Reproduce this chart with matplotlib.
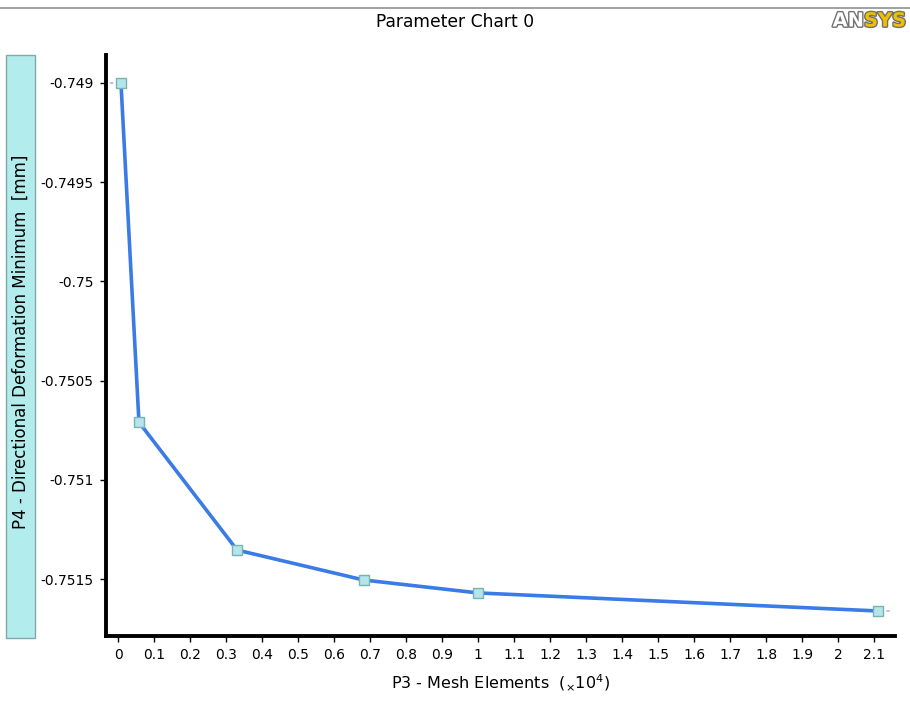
import matplotlib
matplotlib.use("Agg")
from matplotlib import pyplot as plt
from matplotlib.patches import Rectangle
from matplotlib.lines import Line2D
import matplotlib.patheffects as pe

# mesh elements (x10^4) and directional deformation minimum (mm)
mesh_elements = [0.0075, 0.0575, 0.330, 0.682, 0.999, 2.110]
deformation = [-0.74900, -0.75071, -0.751354, -0.751505, -0.751570, -0.751661]

x_ticks = [round(i * 0.1, 1) for i in range(22)]
x_tick_labels = ["0", "0.1", "0.2", "0.3", "0.4", "0.5", "0.6", "0.7", "0.8", "0.9", "1",
                 "1.1", "1.2", "1.3", "1.4", "1.5", "1.6", "1.7", "1.8", "1.9", "2", "2.1"]
y_ticks = [-0.749, -0.7495, -0.75, -0.7505, -0.751, -0.7515]
y_tick_labels = ["-0.749", "-0.7495", "-0.75", "-0.7505", "-0.751", "-0.7515"]

fig = plt.figure(figsize=(9.1, 7.11), dpi=100)
ax = fig.add_axes([0.1165, 0.1055, 0.867, 0.817])

xmin, xmax = -0.034, 2.157
ymin, ymax = -0.751787, -0.74886

# short dashed extensions at both ends
ax.plot([xmin + 0.012, mesh_elements[0]], [deformation[0]] * 2, ls=(0, (2, 3)),
        color="#b0b0f0", lw=1.2, zorder=1)
ax.plot([mesh_elements[-1], xmax - 0.01], [deformation[-1]] * 2, ls=(0, (2, 3)),
        color="#b0b0f0", lw=1.2, zorder=1)

ax.plot(mesh_elements, deformation, color="#3a7be6", lw=2.6, zorder=2,
        marker="s", markersize=7, markerfacecolor="#b6e4ec",
        markeredgecolor="#78b4ae", markeredgewidth=1.0)

ax.set_xlim(xmin, xmax)
ax.set_ylim(ymin, ymax)
ax.set_xticks(x_ticks)
ax.set_xticklabels(x_tick_labels)
ax.set_yticks(y_ticks)
ax.set_yticklabels(y_tick_labels)
ax.tick_params(direction="out", length=4, width=1, labelsize=10, pad=5)

for side in ["top", "right"]:
    ax.spines[side].set_visible(False)
for side in ["left", "bottom"]:
    ax.spines[side].set_linewidth(2.8)

ax.set_xlabel(r"P3 - Mesh Elements  ($_{\times}$10$^{4}$)", fontsize=11.5, labelpad=7)

# y label drawn in a cyan box spanning the plot height
fig.patches.append(Rectangle((6 / 910, (711 - 638) / 711), 29 / 910, 583 / 711,
                             transform=fig.transFigure, facecolor="#b3ecec",
                             edgecolor="#80a8a8", lw=1.0))
fig.text(20.5 / 910, (711 - 342) / 711, "P4 - Directional Deformation Minimum  [mm]",
         rotation=90, ha="center", va="center", fontsize=12)

fig.text(0.5, (711 - 22) / 711, "Parameter Chart 0", ha="center", va="center", fontsize=12.3)
fig.lines.append(Line2D([0, 1], [1 - 8 / 711] * 2, transform=fig.transFigure,
                        color="#909090", lw=1.2))

# ANSYS logo
outline = [pe.withStroke(linewidth=2.0, foreground="#707070")]
fig.text(864 / 910, (711 - 21) / 711, "AN", ha="right", va="center", fontsize=14,
         fontweight="bold", color="white", path_effects=outline)
fig.text(864 / 910, (711 - 21) / 711, "SYS", ha="left", va="center", fontsize=14,
         fontweight="bold", color="#f0c000", path_effects=outline)

fig.savefig("out.png", dpi=100)
